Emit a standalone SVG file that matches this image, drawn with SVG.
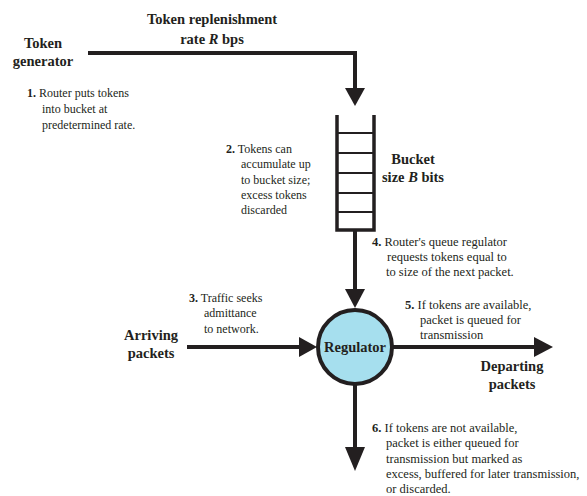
<svg xmlns="http://www.w3.org/2000/svg" width="587" height="496" viewBox="0 0 587 496">
<style>
.b{font-family:"Liberation Serif","DejaVu Serif",serif;font-weight:bold;font-size:14.5px;fill:#231f20}
.s{font-family:"Liberation Serif","DejaVu Serif",serif;font-size:12px;fill:#231f20}
.t{font-size:12.5px}
.n{font-weight:bold}
.ln{stroke:#231f20;stroke-width:4;fill:none}
.ah{fill:#231f20}
</style>
<rect width="587" height="496" fill="#fff"/>
<g id="connectors">
<polyline class="ln" points="88,53 355,53 355,90"/>
<polygon class="ah" points="345,88 365,88 355,106"/>
<line class="ln" x1="355" y1="230" x2="355" y2="291"/>
<polygon class="ah" points="345,289 365,289 355,308"/>
<line class="ln" x1="187" y1="347" x2="302" y2="347"/>
<polygon class="ah" points="299,337 299,357 317,347"/>
<line class="ln" x1="393" y1="347" x2="537" y2="347"/>
<polygon class="ah" points="534,337 534,357 553,347"/>
<line class="ln" x1="355" y1="385" x2="355" y2="450"/>
<polygon class="ah" points="345,447 365,447 355,471"/>
</g>
<g id="token-generator">
<text class="b" x="43" y="48" text-anchor="middle">Token</text>
<text class="b" x="43" y="66" text-anchor="middle">generator</text>
</g>
<g id="replenishment-label">
<text class="b" x="212" y="24" text-anchor="middle">Token replenishment</text>
<text class="b" x="212" y="44" text-anchor="middle">rate <tspan font-style="italic">R</tspan> bps</text>
</g>
<g id="bucket">
<polyline points="337,115 337,230 374,230 374,115" fill="none" stroke="#231f20" stroke-width="3.5"/>
<g stroke="#231f20" stroke-width="2">
<line x1="337" y1="133" x2="374" y2="133"/>
<line x1="337" y1="153" x2="374" y2="153"/>
<line x1="337" y1="173" x2="374" y2="173"/>
<line x1="337" y1="193" x2="374" y2="193"/>
<line x1="337" y1="212" x2="374" y2="212"/>
</g>
<text class="b" x="413" y="164" text-anchor="middle">Bucket</text>
<text class="b" x="413" y="182" text-anchor="middle">size <tspan font-style="italic">B</tspan> bits</text>
</g>
<g id="regulator">
<circle cx="355" cy="347" r="37" fill="#a6dfee" stroke="#231f20" stroke-width="4"/>
<text class="b" x="355" y="352" text-anchor="middle" font-size="13.5">Regulator</text>
</g>
<g id="arriving">
<text class="b" x="151" y="340" text-anchor="middle">Arriving</text>
<text class="b" x="151" y="358" text-anchor="middle">packets</text>
</g>
<g id="departing">
<text class="b" x="512" y="371" text-anchor="middle">Departing</text>
<text class="b" x="512" y="389" text-anchor="middle">packets</text>
</g>
<g id="note1">
<text class="s" x="27" y="97"><tspan class="n">1.</tspan> Router puts tokens</text>
<text class="s" x="42" y="113">into bucket at</text>
<text class="s" x="42" y="129">predetermined rate.</text>
</g>
<g id="note2">
<text class="s" x="226" y="153"><tspan class="n">2.</tspan> Tokens can</text>
<text class="s" x="241" y="168">accumulate up</text>
<text class="s" x="241" y="184">to bucket size;</text>
<text class="s" x="241" y="199">excess tokens</text>
<text class="s" x="241" y="214">discarded</text>
</g>
<g id="note3">
<text class="s" x="189" y="302"><tspan class="n">3.</tspan> Traffic seeks</text>
<text class="s" x="204" y="317">admittance</text>
<text class="s" x="204" y="333">to network.</text>
</g>
<g id="note4">
<text class="s t" x="372" y="246"><tspan class="n">4.</tspan> Router's queue regulator</text>
<text class="s t" x="387" y="261">requests tokens equal to</text>
<text class="s t" x="386" y="276">to size of the next packet.</text>
</g>
<g id="note5">
<text class="s t" x="405" y="309"><tspan class="n">5.</tspan> If tokens are available,</text>
<text class="s t" x="420" y="324">packet is queued for</text>
<text class="s t" x="420" y="339">transmission</text>
</g>
<g id="note6">
<text class="s t" x="372" y="432"><tspan class="n">6.</tspan> If tokens are not available,</text>
<text class="s t" x="386" y="447">packet is either queued for</text>
<text class="s t" x="386" y="463">transmission but marked as</text>
<text class="s t" x="386" y="478">excess, buffered for later transmission,</text>
<text class="s t" x="386" y="493">or discarded.</text>
</g>
</svg>
